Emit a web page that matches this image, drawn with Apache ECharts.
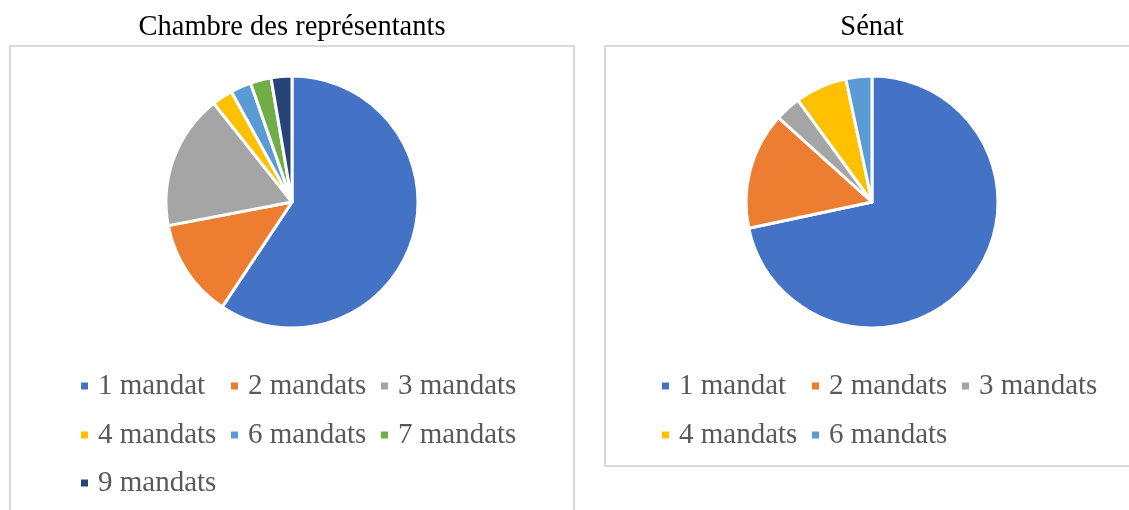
<!DOCTYPE html>
<html>
<head>
<meta charset="utf-8">
<title>Mandats</title>
<script src="https://cdn.jsdelivr.net/npm/echarts@6/dist/echarts.min.js"></script>
<style>
    html, body {margin: 0; padding: 0; background: #fff;}
    #main {width: 1129px; height: 510px;}
</style>
</head>
<body>
<div id="main"></div>
<script>
// données (nombre de membres)
var chambreNames = ['1 mandat', '2 mandats', '3 mandats', '4 mandats', '6 mandats', '7 mandats', '9 mandats'];
var chambreValues = [89, 19, 26, 4, 4, 4, 4];
var senatNames = ['1 mandat', '2 mandats', '3 mandats', '4 mandats', '6 mandats'];
var senatValues = [43, 9, 2, 4, 2];

var colors = {
    '1 mandat': '#4472C4',
    '2 mandats': '#ED7D31',
    '3 mandats': '#A5A5A5',
    '4 mandats': '#FFC000',
    '6 mandats': '#5B9BD5',
    '7 mandats': '#70AD47',
    '9 mandats': '#264478'
};

var serif = '"Liberation Serif", "Times New Roman", serif';

function pieData(names, values) {
    return names.map(function (n, i) {
        return {name: n, value: values[i], itemStyle: {color: colors[n]}};
    });
}

// une légende par élément, en colonnes comme dans Excel
function legends(names, x0) {
    var rowTop = [371, 420, 468];
    return names.map(function (n, i) {
        return {
            data: [n],
            left: x0 + (i % 3) * 150,
            top: rowTop[Math.floor(i / 3)],
            padding: 0,
            icon: 'rect',
            itemWidth: 9,
            itemHeight: 9,
            selectedMode: false,
            textStyle: {
                fontFamily: serif,
                fontSize: 29,
                lineHeight: 30,
                color: '#595959',
                padding: [0, 0, 0, 4]
            }
        };
    });
}

var myChart = echarts.init(document.getElementById('main'));

var option = {
    animation: false,
    graphic: [
        {type: 'rect', z: 0, shape: {x: 10, y: 46, width: 564, height: 480},
            style: {fill: 'none', stroke: '#d9d9d9', lineWidth: 2}},
        {type: 'rect', z: 0, shape: {x: 605, y: 46, width: 600, height: 420},
            style: {fill: 'none', stroke: '#d9d9d9', lineWidth: 2}},
        {type: 'text', x: 292, y: 28,
            style: {text: 'Chambre des représentants', font: '28.5px ' + serif, fill: '#000',
                textAlign: 'center', textVerticalAlign: 'middle'}},
        {type: 'text', x: 872, y: 28,
            style: {text: 'Sénat', font: '28.5px ' + serif, fill: '#000',
                textAlign: 'center', textVerticalAlign: 'middle'}}
    ],
    legend: legends(chambreNames, 79).concat(legends(senatNames, 660)),
    series: [
        {
            name: 'Chambre des représentants',
            type: 'pie',
            center: [292, 202],
            radius: 126,
            startAngle: 90,
            label: {show: false},
            labelLine: {show: false},
            emphasis: {disabled: true},
            itemStyle: {borderColor: '#fff', borderWidth: 3},
            data: pieData(chambreNames, chambreValues)
        },
        {
            name: 'Sénat',
            type: 'pie',
            center: [872, 202],
            radius: 126,
            startAngle: 90,
            label: {show: false},
            labelLine: {show: false},
            emphasis: {disabled: true},
            itemStyle: {borderColor: '#fff', borderWidth: 3},
            data: pieData(senatNames, senatValues)
        }
    ]
};

myChart.setOption(option);
</script>
</body>
</html>
